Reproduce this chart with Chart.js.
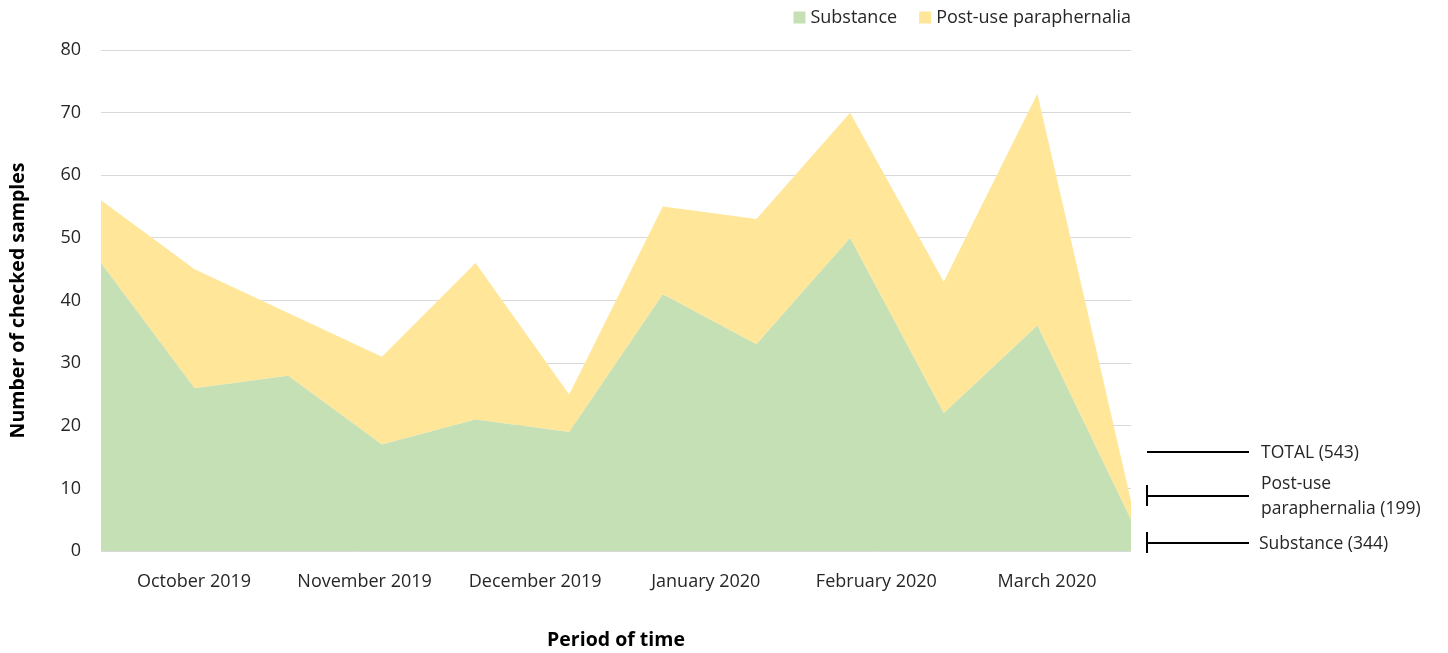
<!DOCTYPE html>
<html>
<head>
<meta charset="utf-8">
<script src="https://cdn.jsdelivr.net/npm/chart.js@4.4.1/dist/chart.umd.min.js"></script>
<style>
  html, body { margin: 0; padding: 0; background: #ffffff; }
  #wrap { width: 1448px; height: 653px; position: relative; }
</style>
</head>
<body>
<div id="wrap"><canvas id="chart" width="1448" height="653"></canvas></div>
<script>
// ---- data ----
const periods = [
  'Oct 2019 (1)', 'Oct 2019 (2)', 'Nov 2019 (1)', 'Nov 2019 (2)',
  'Dec 2019 (1)', 'Dec 2019 (2)', 'Jan 2020 (1)', 'Jan 2020 (2)',
  'Feb 2020 (1)', 'Feb 2020 (2)', 'Mar 2020 (1)', 'Mar 2020 (2)'
];
const monthLabels = ['October 2019', 'November 2019', 'December 2019', 'January 2020', 'February 2020', 'March 2020'];
const substance     = [46, 26, 28, 17, 21, 19, 41, 33, 50, 22, 36, 5];
const paraphernalia = [10, 19, 10, 14, 25, 6, 14, 20, 20, 21, 37, 3];
const seriesNames = ['Substance', 'Post-use paraphernalia'];
const yMin = 0, yMax = 80, yStep = 10;

const sum = a => a.reduce((s, v) => s + v, 0);
const totalSubstance = sum(substance);
const totalParaphernalia = sum(paraphernalia);
const totalAll = totalSubstance + totalParaphernalia;

const GREEN = '#C5E0B4';
const YELLOW = '#FFE699';
const FONT = '"Open Sans", "Noto Sans", sans-serif';
const TEXT = '#262626';

// custom legend + right-side annotations
const extrasPlugin = {
  id: 'extras',
  afterDraw(chart) {
    const ctx = chart.ctx;
    const ca = chart.chartArea;
    ctx.save();
    // legend (right aligned to plot area)
    ctx.font = '18px ' + FONT;
    ctx.textBaseline = 'middle';
    ctx.textAlign = 'left';
    const items = [
      { text: seriesNames[0], color: GREEN },
      { text: seriesNames[1], color: YELLOW }
    ];
    let x = ca.right;
    const ly = 17.5;
    const positions = [];
    for (let i = items.length - 1; i >= 0; i--) {
      const w = ctx.measureText(items[i].text).width;
      const tx = x - w;
      const bx = tx - 5 - 12;
      positions[i] = { tx, bx };
      x = bx - 22;
    }
    items.forEach((it, i) => {
      ctx.fillStyle = it.color;
      ctx.fillRect(positions[i].bx, ly - 6, 12, 12);
      ctx.fillStyle = TEXT;
      ctx.fillText(it.text, positions[i].tx, ly);
    });

    // annotations
    const x0 = ca.right + 16;
    const x1 = ca.right + 118;
    const tx = ca.right + 130;
    ctx.strokeStyle = '#000000';
    ctx.lineWidth = 2;
    ctx.fillStyle = TEXT;
    ctx.font = '17.5px ' + FONT;

    const yTot = ca.bottom - 99;
    ctx.beginPath(); ctx.moveTo(x0, yTot); ctx.lineTo(x1, yTot); ctx.stroke();
    ctx.fillText('TOTAL (' + totalAll + ')', tx, yTot + 1);

    const yPar = ca.bottom - 55;
    ctx.beginPath(); ctx.moveTo(x0, yPar); ctx.lineTo(x1, yPar); ctx.stroke();
    ctx.beginPath(); ctx.moveTo(x0, yPar - 11); ctx.lineTo(x0, yPar + 10); ctx.stroke();
    ctx.fillText('Post-use', tx, yPar - 12);
    ctx.fillText('paraphernalia (' + totalParaphernalia + ')', tx, yPar + 13);

    const ySub = ca.bottom - 8;
    ctx.beginPath(); ctx.moveTo(x0, ySub); ctx.lineTo(x1, ySub); ctx.stroke();
    ctx.beginPath(); ctx.moveTo(x0, ySub - 11); ctx.lineTo(x0, ySub + 10); ctx.stroke();
    ctx.fillText('Substance (' + totalSubstance + ')', tx - 2, ySub + 1);
    ctx.restore();
  }
};

new Chart(document.getElementById('chart'), {
  type: 'line',
  data: {
    labels: periods,
    datasets: [
      {
        label: seriesNames[0],
        data: substance,
        backgroundColor: GREEN,
        borderWidth: 0,
        pointRadius: 0,
        fill: 'origin',
        tension: 0
      },
      {
        label: seriesNames[1],
        data: paraphernalia,
        backgroundColor: YELLOW,
        borderWidth: 0,
        pointRadius: 0,
        fill: '-1',
        tension: 0
      }
    ]
  },
  options: {
    responsive: false,
    animation: false,
    devicePixelRatio: 1,
    layout: { padding: { top: 50, right: 317, bottom: 0, left: 0 } },
    plugins: {
      legend: { display: false },
      tooltip: { enabled: false }
    },
    scales: {
      x: {
        type: 'category',
        display: false,
        offset: false,
        stacked: true
      },
      months: {
        type: 'linear',
        position: 'bottom',
        min: -0.045,
        max: 5.9925,
        afterBuildTicks(scale) {
          scale.ticks = monthLabels.map((_, i) => ({ value: i + 0.5 }));
        },
        grid: { display: false, drawTicks: false, tickLength: 0 },
        border: { display: false },
        ticks: {
          font: { family: FONT, size: 18 }, color: TEXT, padding: 20,
          maxRotation: 0, autoSkip: false,
          callback: (value, index) => monthLabels[index]
        },
        title: {
          display: true,
          text: 'Period of time',
          font: { family: FONT, size: 19.5, weight: 'bold' },
          color: '#000000',
          padding: { top: 0, bottom: 1 }
        },
        afterFit(scale) { scale.height = 102; }
      },
      y: {
        stacked: true,
        min: yMin,
        max: yMax,
        ticks: { stepSize: yStep, font: { family: FONT, size: 18 }, color: TEXT, padding: 20 },
        grid: { color: '#D9D9D9', lineWidth: 1, drawTicks: false, tickLength: 0 },
        border: { display: false },
        title: {
          display: true,
          text: 'Number of checked samples',
          font: { family: FONT, size: 19.5, weight: 'bold' },
          color: '#000000',
          padding: { top: 7, bottom: 0 }
        },
        afterFit(scale) { scale.width = 101; }
      }
    }
  },
  plugins: [extrasPlugin]
});
</script>
</body>
</html>
